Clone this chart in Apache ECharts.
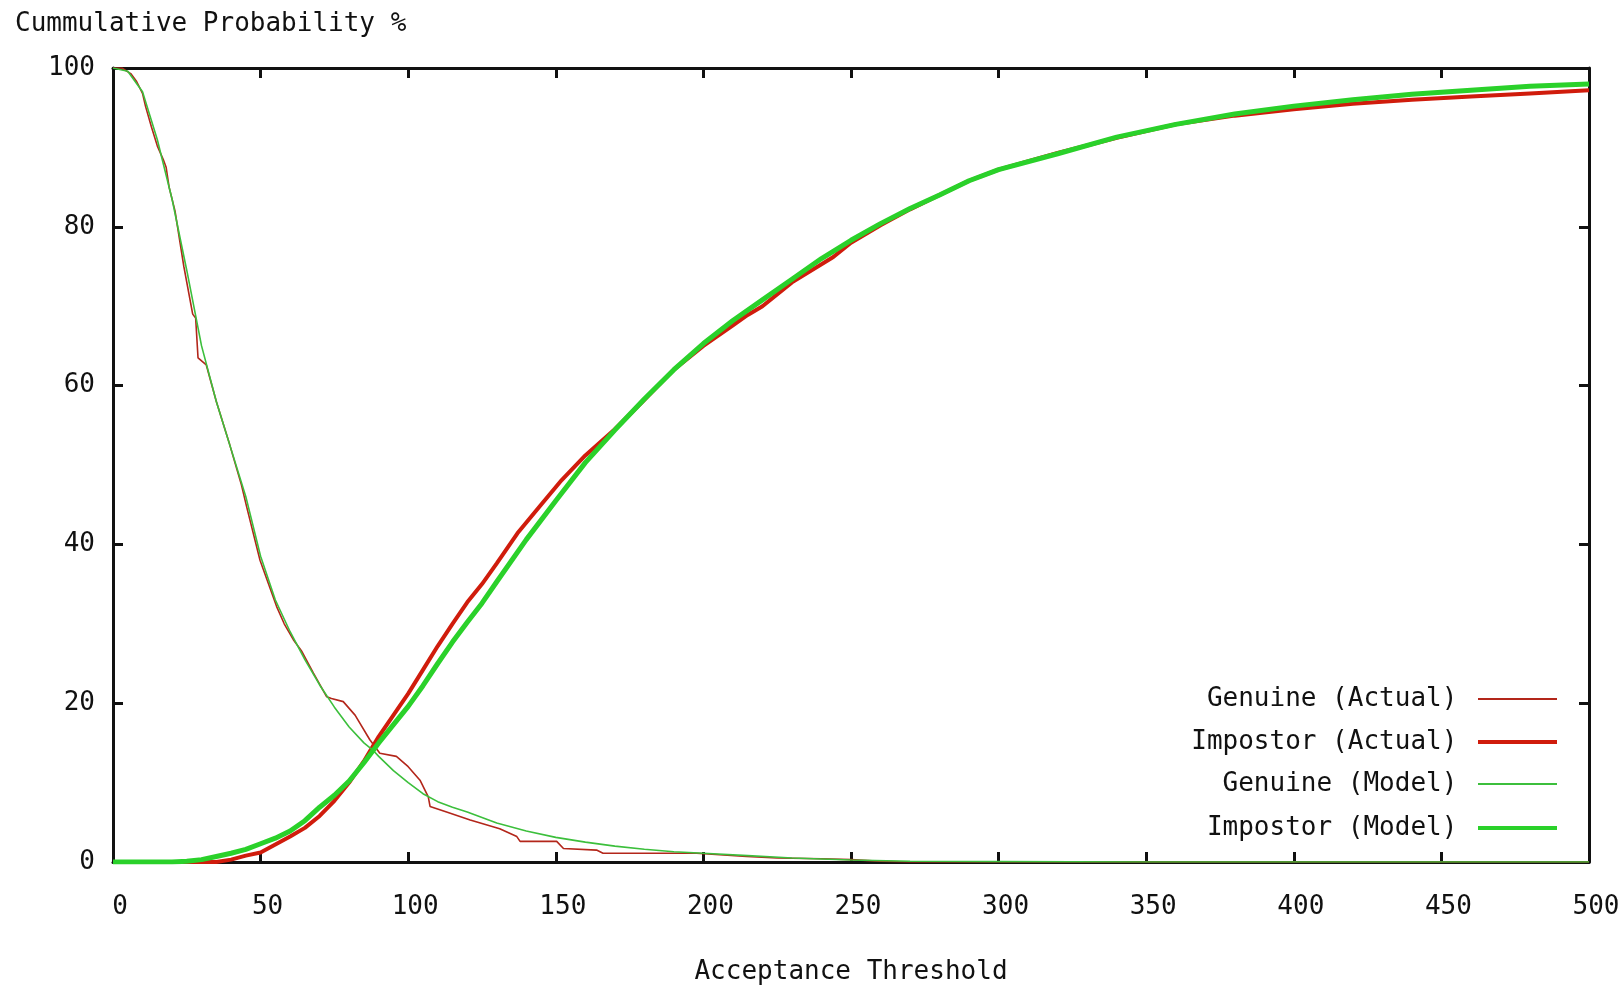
<!DOCTYPE html>
<html>
<head>
<meta charset="utf-8">
<title>Cummulative Probability</title>
<script src="https://cdn.jsdelivr.net/npm/echarts@6/dist/echarts.min.js"></script>
<style>
  html, body { margin: 0; padding: 0; background: #fff; }
  #main { width: 1624px; height: 985px; }
</style>
</head>
<body>
<div id="main"></div>
<script>
// values
var genuineActualX = [0, 3, 6, 8, 10, 11, 13, 15, 17, 18, 19, 21, 24, 27, 28, 28.8, 31.6, 35, 39.5, 43.5, 45.3, 49.8, 55.4, 58, 61.1, 64, 67.9, 72.4, 74, 78, 82, 87, 90.4, 96, 100, 104, 106.8, 107.4, 113, 121, 131, 136.8, 137.9, 150.3, 152.6, 163.8, 166, 197.7, 214.6, 225, 240, 250, 260, 270, 500];
var genuineActualY = [100, 100, 99.3, 98.3, 96.8, 95.2, 92.6, 90.2, 88.5, 87.5, 85, 82, 75, 69, 68.5, 63.5, 62.6, 58, 52.6, 47.5, 44.7, 38, 32.2, 30, 28, 26.5, 23.8, 20.8, 20.6, 20.2, 18.5, 15.4, 13.7, 13.3, 12, 10.3, 8.2, 7.0, 6.3, 5.3, 4.2, 3.2, 2.6, 2.6, 1.7, 1.5, 1.1, 1.1, 0.7, 0.5, 0.4, 0.3, 0.1, 0, 0];

var impostorActualX = [0, 35, 40, 45, 50, 55, 60, 65, 70, 75, 80, 85, 90, 95, 100, 105, 110, 115, 120, 125, 130, 137, 145, 152, 160, 170, 180, 190, 200, 210, 215, 220, 230, 244, 250, 260, 270, 280, 290, 300, 320, 340, 360, 380, 400, 420, 440, 460, 480, 500];
var impostorActualY = [0, 0, 0.3, 0.8, 1.2, 2.2, 3.2, 4.3, 5.8, 7.7, 10, 12.7, 15.8, 18.5, 21.2, 24.2, 27.2, 30, 32.7, 35, 37.6, 41.4, 45, 48.1, 51.2, 54.5, 58.2, 62, 65, 67.6, 68.9, 70, 73, 76.2, 78, 80.2, 82.2, 84, 85.8, 87.2, 89.3, 91.2, 92.9, 94, 94.8, 95.5, 96, 96.4, 96.8, 97.2];

var genuineModelX = [0, 5, 10, 15, 20, 25, 30, 35, 40, 45, 50, 55, 60, 65, 70, 75, 80, 85, 88, 90, 95, 100, 105, 110, 115, 120, 130, 140, 150, 160, 170, 180, 190, 200, 215, 230, 250, 270, 300, 350, 500];
var genuineModelY = [100, 99.6, 97, 91, 83.5, 74.5, 65, 58, 52, 46, 38.5, 33, 29, 25.5, 22.3, 19.5, 17, 15, 14.1, 13.3, 11.5, 10, 8.6, 7.6, 6.9, 6.3, 4.9, 3.9, 3.1, 2.5, 2.0, 1.6, 1.3, 1.1, 0.8, 0.5, 0.25, 0.1, 0.05, 0, 0];

var impostorModelX = [0, 20, 25, 30, 35, 40, 45, 50, 55, 60, 65, 70, 75, 80, 85, 90, 95, 100, 105, 110, 115, 120, 125, 130, 140, 150, 160, 170, 180, 190, 200, 210, 220, 230, 240, 250, 260, 270, 280, 290, 300, 320, 340, 360, 380, 400, 420, 440, 460, 480, 500];
var impostorModelY = [0, 0, 0.1, 0.3, 0.7, 1.1, 1.6, 2.3, 3.0, 3.9, 5.2, 6.9, 8.4, 10.2, 12.5, 15.0, 17.3, 19.6, 22.2, 25, 27.7, 30.2, 32.6, 35.3, 40.6, 45.5, 50.3, 54.4, 58.3, 62, 65.3, 68.2, 70.8, 73.4, 76, 78.3, 80.4, 82.3, 84, 85.8, 87.2, 89.2, 91.3, 92.9, 94.2, 95.2, 96, 96.7, 97.2, 97.7, 98];

var names = ['Genuine (Actual)', 'Impostor (Actual)', 'Genuine (Model)', 'Impostor (Model)'];

function pairs(xs, ys) {
    return xs.map(function (x, i) { return [x, ys[i]]; });
}

var font = 'DejaVu Sans Mono';
var ink = '#111';

var chart = echarts.init(document.getElementById('main'));

// gnuplot style border: ticks inside on all four sides
function axisStyle(showLabel) {
    return {
        axisLine: { show: true, onZero: false, lineStyle: { color: ink, width: 3 } },
        axisTick: { show: true, inside: true, length: 10, lineStyle: { color: ink, width: 3 } },
        splitLine: { show: false },
        axisLabel: { show: showLabel, color: ink, fontFamily: font, fontSize: 26 }
    };
}

var xBottom = Object.assign({ type: 'value', position: 'bottom', min: 0, max: 500, interval: 50,
    name: 'Acceptance Threshold', nameLocation: 'middle', nameGap: 97,
    nameTextStyle: { color: ink, fontFamily: font, fontSize: 26 } }, axisStyle(true));
xBottom.axisLabel.margin = 32;
xBottom.axisLabel.padding = [0, 0, 0, 14];
var xTop = Object.assign({ type: 'value', position: 'top', min: 0, max: 500, interval: 50 }, axisStyle(false));
var yLeft = Object.assign({ type: 'value', position: 'left', min: 0, max: 100, interval: 20 }, axisStyle(true));
yLeft.axisLabel.margin = 18;
var yRight = Object.assign({ type: 'value', position: 'right', min: 0, max: 100, interval: 20 }, axisStyle(false));

var colors = ['#b3261a', '#d01c0c', '#3cbf3c', '#2ad12a'];
var widths = [1.6, 4, 1.6, 5];
var legendTops = [686, 729, 771, 815];

var legends = names.map(function (n, i) {
    return {
        data: [n],
        orient: 'vertical',
        right: 67,
        top: legendTops[i],
        padding: 0,
        align: 'right',
        icon: 'rect',
        itemWidth: 79,
        itemHeight: widths[i] > 3 ? 4 : 2,
        formatter: function (name) { return name + ' '; },
        textStyle: { color: ink, fontFamily: font, fontSize: 26 }
    };
});

var seriesData = [
    pairs(genuineActualX, genuineActualY),
    pairs(impostorActualX, impostorActualY),
    pairs(genuineModelX, genuineModelY),
    pairs(impostorModelX, impostorModelY)
];

option = {
    backgroundColor: '#fff',
    animation: false,
    title: {
        text: 'Cummulative Probability %',
        left: 10,
        top: 6,
        textStyle: { color: ink, fontFamily: font, fontSize: 26, fontWeight: 'normal' }
    },
    grid: { left: 113, right: 35, top: 68, bottom: 123, containLabel: false, outerBoundsMode: 'none' },
    legend: legends,
    xAxis: [xBottom, xTop],
    yAxis: [yLeft, yRight],
    series: names.map(function (n, i) {
        return {
            name: n,
            type: 'line',
            xAxisIndex: 0,
            yAxisIndex: 0,
            showSymbol: false,
            symbol: 'none',
            data: seriesData[i],
            itemStyle: { color: colors[i] },
            lineStyle: { color: colors[i], width: widths[i] }
        };
    })
};

option && chart.setOption(option);
</script>
</body>
</html>
